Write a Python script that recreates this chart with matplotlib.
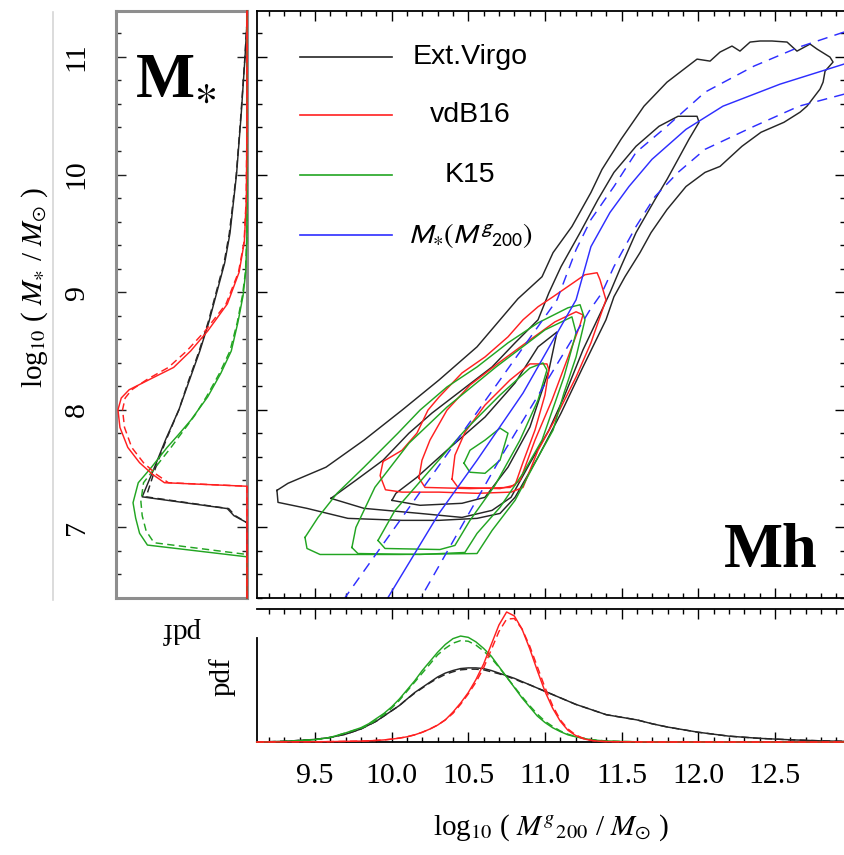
import numpy as np
import matplotlib
matplotlib.use("Agg")
from matplotlib import pyplot as plt
from matplotlib.ticker import MultipleLocator, FormatStrFormatter
from matplotlib.lines import Line2D

plt.rcParams['font.family'] = ['Liberation Serif', 'DejaVu Serif']
plt.rcParams['mathtext.fontset'] = 'stix'

BLACK = '#262626'
RED = '#ff2020'
GREEN = '#22a522'
BLUE = '#2e2eff'

# ---------------- main panel: contours in (log Mh, log M*) ----------------
# Ext.Virgo
vir1_x = [9.252, 9.259, 9.448, 9.715, 10.068, 10.309, 10.557, 10.707, 10.805, 10.955, 11.105, 11.248,
          11.398, 11.45, 11.522, 11.62, 11.692, 11.796, 11.92, 12.044, 12.142, 12.285, 12.409, 12.559,
          12.664, 12.709, 12.794, 12.814, 12.827, 12.879, 12.859, 12.775, 12.729, 12.644, 12.579, 12.481,
          12.403, 12.338, 12.272, 12.22, 12.142, 12.077, 11.992, 11.796, 11.646, 11.496, 11.372, 11.3,
          11.176, 11.053, 10.981, 10.824, 10.557, 10.309, 10.068, 9.82, 9.572, 9.324]
vir1_y = [7.315, 7.213, 7.162, 7.077, 7.06, 7.06, 7.077, 7.119, 7.256, 7.597, 7.972, 8.364,
          8.765, 8.961, 9.131, 9.336, 9.506, 9.702, 9.898, 10.018, 10.069, 10.24, 10.359, 10.444,
          10.53, 10.581, 10.726, 10.785, 10.879, 10.956, 10.998, 11.066, 11.109, 11.049, 11.126, 11.135,
          11.135, 11.126, 11.049, 11.092, 11.041, 10.964, 10.981, 10.785, 10.581, 10.299, 10.043, 9.847,
          9.558, 9.336, 9.131, 8.944, 8.535, 8.253, 7.997, 7.742, 7.512, 7.375]
vir2_x = [9.604, 9.82, 10.185, 10.459, 10.655, 10.779, 10.902, 11.026, 11.124, 11.248, 11.372, 11.424,
          11.496, 11.594, 11.718, 11.796, 11.868, 11.939, 12.005, 11.992, 11.868, 11.744, 11.594, 11.45,
          11.346, 11.229, 11.105, 11.026, 10.955, 10.805, 10.655, 10.459, 10.263, 10.113, 9.944, 9.767]
vir2_y = [7.247, 7.162, 7.119, 7.085, 7.145, 7.256, 7.546, 7.827, 8.108, 8.509, 8.85, 8.995,
          9.217, 9.506, 9.788, 9.958, 10.129, 10.299, 10.444, 10.495, 10.495, 10.41, 10.24, 10.018,
          9.788, 9.506, 9.217, 8.995, 8.765, 8.569, 8.364, 8.168, 7.972, 7.801, 7.571, 7.401]
vir3_x = [10.002, 10.185, 10.459, 10.609, 10.759, 10.902, 11.026, 11.079, 10.955, 10.805, 10.609,
          10.361, 10.165, 10.028]
vir3_y = [7.23, 7.188, 7.205, 7.256, 7.512, 7.853, 8.338, 8.662, 8.535, 8.228, 7.938,
          7.656, 7.426, 7.29]

# vdB16
vdb1_x = [9.944, 9.925, 9.96, 10.068, 10.309, 10.557, 10.779, 10.857, 10.955, 11.053, 11.203, 11.3,
          11.398, 11.359, 11.34, 11.261, 11.053, 10.955, 10.857, 10.759, 10.609, 10.459, 10.309,
          10.237, 10.165, 10.068]
vdb1_y = [7.56, 7.44, 7.32, 7.30, 7.30, 7.29, 7.30, 7.34, 7.656, 7.887, 8.279, 8.569,
          8.935, 9.106, 9.165, 9.148, 8.961, 8.876, 8.765, 8.62, 8.449, 8.313, 8.108,
          7.997, 7.801, 7.656]
vdb2_x = [10.178, 10.218, 10.512, 10.773, 10.838, 10.935, 11.046, 11.144, 11.229, 11.248, 11.203,
          11.066, 10.902, 10.707, 10.512, 10.361, 10.25, 10.198]
vdb2_y = [7.42, 7.34, 7.33, 7.34, 7.40, 7.742, 8.083, 8.424, 8.722, 8.807, 8.833,
          8.748, 8.594, 8.407, 8.211, 7.997, 7.742, 7.571]
vdb3_x = [10.394, 10.433, 10.707, 10.805, 10.857, 10.935, 11.0, 11.026, 11.013, 10.902, 10.772,
          10.609, 10.479, 10.413]
vdb3_y = [7.41, 7.34, 7.33, 7.36, 7.554, 7.827, 8.125, 8.338, 8.39, 8.39, 8.253,
          8.04, 7.81, 7.614]

# K15
k15a_x = [9.435, 9.448, 9.533, 10.054, 10.557, 10.655, 10.805, 10.955, 11.053, 11.124, 11.203, 11.261,
          11.229, 11.15, 10.955, 10.759, 10.557, 10.361, 10.185, 10.041, 9.82, 9.644, 9.52]
k15a_y = [6.915, 6.821, 6.77, 6.77, 6.778, 6.974, 7.23, 7.597, 7.827, 8.142, 8.449, 8.765,
          8.893, 8.867, 8.739, 8.569, 8.364, 8.194, 7.997, 7.801, 7.512, 7.29, 7.085]
k15b_x = [9.741, 9.78, 10.185, 10.478, 10.557, 10.707, 10.857, 10.981, 11.124, 11.203, 11.176,
          11.0, 10.681, 10.361, 10.113, 9.891, 9.767]
k15b_y = [6.829, 6.778, 6.77, 6.787, 6.949, 7.171, 7.46, 7.742, 8.279, 8.654, 8.79,
          8.679, 8.364, 8.023, 7.716, 7.341, 7.0]
k15c_x = [9.911, 9.957, 10.315, 10.413, 10.511, 10.674, 10.837, 10.955, 11.013, 10.987, 10.902,
          10.707, 10.479, 10.25, 10.022]
k15c_y = [6.889, 6.821, 6.812, 6.847, 7.06, 7.358, 7.742, 8.083, 8.338, 8.398, 8.355,
          8.125, 7.827, 7.486, 7.145]
k15d_x = [10.472, 10.511, 10.609, 10.707, 10.759, 10.707, 10.609, 10.511]
k15d_y = [7.546, 7.469, 7.46, 7.571, 7.801, 7.844, 7.742, 7.656]

# M*(M^g_200) relation and its scatter
rel_x = [12.951, 12.533, 12.161, 11.92, 11.698, 11.548, 11.424, 11.3, 11.203, 10.857, 10.557, 10.309, 9.976]
rel_y = [10.939, 10.768, 10.581, 10.384, 10.129, 9.898, 9.677, 9.387, 8.935, 8.142, 7.571, 7.119, 6.403]
rel_hi_x = [12.951, 12.657, 12.364, 12.044, 11.796, 11.594, 11.45, 11.3, 11.203, 11.079, 10.413, 9.696]
rel_hi_y = [11.211, 11.083, 10.922, 10.7, 10.41, 10.188, 9.898, 9.617, 9.361, 8.935, 7.716, 6.403]
rel_lo_x = [12.951, 12.657, 12.364, 12.044, 11.868, 11.718, 11.594, 11.45, 11.372, 11.294, 10.739, 10.191]
rel_lo_y = [10.683, 10.581, 10.41, 10.214, 10.018, 9.813, 9.558, 9.217, 8.995, 8.85, 7.656, 6.403]

# ---------------- bottom panel: pdf of log M^g_200 ----------------
mh = [9.12, 9.3, 9.5, 9.6, 9.7,
      9.8, 9.85, 9.9, 9.95, 10.0, 10.05, 10.1, 10.15, 10.2, 10.25, 10.3, 10.35, 10.4, 10.45, 10.5, 10.55,
      10.6, 10.65, 10.7, 10.75, 10.8, 10.85, 10.9, 10.95, 11.0, 11.05, 11.1, 11.15, 11.2, 11.25, 11.3,
      11.35, 11.4,
      11.5, 11.6, 11.7, 11.8, 11.9, 12.0, 12.2, 12.4, 12.6, 12.8, 12.96]
pdf_mh_vir = [0, .005, .02, .035, .06,
              .1, .13, .16, .2, .24, .28, .33, .38, .42, .46, .5, .53, .55, .565, .57, .57, .565, .55, .53,
              .51, .49, .465, .44, .415, .39, .365, .34, .315, .29, .27, .25, .23, .21,
              .19, .17, .14, .115, .095, .075, .045, .028, .017, .009, .005]
pdf_mh_vir_d = [0, .005, .02, .035, .06,
                .1, .13, .16, .2, .24, .28, .33, .375, .415, .455, .49, .52, .54, .555, .56, .56, .555, .54,
                .525, .505, .485, .46, .44, .415, .39, .365, .34, .315, .29, .27, .25, .23, .21,
                .19, .17, .14, .115, .095, .075, .045, .028, .017, .009, .005]
pdf_mh_vdb = [0, .001, .002, .003, .005,
              .007, .009, .012, .016, .022, .03, .04, .055, .075, .1, .13, .17, .23, .3, .38, .48, .6,
              .75, .9, 1.0, .97, .87, .72, .55, .39, .26, .16, .09, .05, .025, .012, .006, .003,
              .002, .001, 0, 0, 0, 0, 0, 0, 0, 0, 0]
pdf_mh_vdb_d = [0, .001, .002, .003, .005,
                .007, .009, .012, .016, .022, .03, .04, .055, .075, .1, .13, .17, .22, .29, .37, .46, .57,
                .71, .85, .945, .95, .87, .74, .58, .42, .28, .17, .1, .055, .028, .013, .006, .003,
                .002, .001, 0, 0, 0, 0, 0, 0, 0, 0, 0]
pdf_mh_k15 = [0, .004, .018, .035, .07,
              .11, .14, .18, .22, .27, .33, .4, .47, .55, .62, .69, .75, .795, .815, .805, .77, .72,
              .66, .58, .5, .42, .34, .27, .2, .15, .11, .08, .055, .04, .028, .018, .012, .008,
              .004, .002, .001, 0, 0, 0, 0, 0, 0, 0, 0]
pdf_mh_k15_d = [0, .004, .018, .035, .07,
                .105, .13, .17, .21, .26, .32, .39, .46, .53, .6, .67, .72, .76, .78, .775, .745, .7,
                .645, .575, .5, .425, .35, .28, .215, .16, .12, .085, .06, .042, .03, .019, .013, .008,
                .004, .002, .001, 0, 0, 0, 0, 0, 0, 0, 0]

# ---------------- left panel: pdf of log M* ----------------
ms_vir = [6.40, 7.04, 7.10, 7.16, 7.26, 7.50, 7.75, 8.00, 8.25, 8.50, 8.75, 9.00, 9.25, 9.50,
          10.00, 10.50, 11.00, 11.30, 11.39]
pdf_ms_vir = [0.0, 0.0, 0.10, 0.15, 0.80, 0.71, 0.62, 0.52, 0.44, 0.36, 0.29, 0.23, 0.17, 0.13,
              0.08, 0.045, 0.015, 0.0, 0.0]
pdf_ms_vir_d = [0.0, 0.0, 0.09, 0.14, 0.77, 0.70, 0.615, 0.52, 0.445, 0.365, 0.295, 0.235, 0.175, 0.135,
                0.082, 0.047, 0.016, 0.0, 0.0]
ms_vdb = [6.40, 7.35, 7.38, 7.45, 7.55, 7.68, 7.85, 8.00, 8.10, 8.17, 8.26, 8.36, 8.50, 8.67, 8.90,
          9.17, 9.43, 9.80, 10.50, 11.39]
pdf_ms_vdb = [0.0, 0.0, 0.63, 0.72, 0.82, 0.91, 0.97, 0.985, 0.96, 0.90, 0.74, 0.56, 0.43, 0.30, 0.15,
              0.06, 0.02, 0.005, 0.0, 0.0]
pdf_ms_vdb_d = [0.0, 0.0, 0.60, 0.69, 0.79, 0.88, 0.935, 0.95, 0.93, 0.88, 0.76, 0.60, 0.46, 0.32, 0.16,
                0.065, 0.022, 0.006, 0.0, 0.0]
ms_k15 = [6.40, 6.75, 6.85, 6.95, 7.08, 7.21, 7.38, 7.51, 7.68, 7.78, 7.91, 8.11, 8.31, 8.50, 8.74,
          8.97, 9.17, 9.50, 11.39]
pdf_ms_k15 = [0.0, 0.0, 0.76, 0.82, 0.85, 0.87, 0.83, 0.73, 0.61, 0.53, 0.43, 0.30, 0.20, 0.12, 0.07,
              0.03, 0.01, 0.0, 0.0]
ms_k15_d = [6.40, 6.77, 6.87, 6.97, 7.10, 7.22, 7.38, 7.51, 7.68, 7.80, 7.95, 8.11, 8.31, 8.50, 8.74,
            8.97, 9.17, 9.50, 11.39]
pdf_ms_k15_d = [0.0, 0.0, 0.71, 0.77, 0.80, 0.81, 0.79, 0.70, 0.58, 0.50, 0.40, 0.31, 0.21, 0.13, 0.075,
                0.035, 0.012, 0.0, 0.0]

legend_labels = ['Ext.Virgo', 'vdB16', 'K15', r'$M_{\ast}(M^{g}{}_{200})$']
legend_colors = [BLACK, RED, GREEN, BLUE]

XLIM = (9.122, 12.957)
YLIM = (6.40, 11.39)
W, H = 844.0, 855.0

fig = plt.figure(figsize=(W / 100, H / 100), dpi=100)
ax = fig.add_axes([257 / W, 1 - 598 / H, 588 / W, 587 / H])
axl = fig.add_axes([116 / W, 1 - 598 / H, 131 / W, 587 / H])
axb = fig.add_axes([257 / W, 1 - 742 / H, 588 / W, 133 / H])

lw = 1.05
# main panel
for xs, ys, col in [(vir1_x, vir1_y, BLACK), (vir2_x, vir2_y, BLACK), (vir3_x, vir3_y, BLACK),
                    (vdb1_x, vdb1_y, RED), (vdb2_x, vdb2_y, RED), (vdb3_x, vdb3_y, RED),
                    (k15a_x, k15a_y, GREEN), (k15b_x, k15b_y, GREEN), (k15c_x, k15c_y, GREEN),
                    (k15d_x, k15d_y, GREEN)]:
    ax.plot(np.append(xs, xs[0]), np.append(ys, ys[0]), color=col, lw=lw)
ax.plot(rel_x, rel_y, color=BLUE, lw=lw)
ax.plot(rel_hi_x, rel_hi_y, color=BLUE, lw=lw, dashes=(7, 5))
ax.plot(rel_lo_x, rel_lo_y, color=BLUE, lw=lw, dashes=(7, 5))

ax.set_xlim(*XLIM)
ax.set_ylim(*YLIM)
ax.xaxis.set_major_locator(MultipleLocator(0.5))
ax.xaxis.set_minor_locator(MultipleLocator(0.1))
ax.yaxis.set_major_locator(MultipleLocator(1))
ax.yaxis.set_minor_locator(MultipleLocator(0.2))
ax.tick_params(which='both', direction='in', top=True, right=True, bottom=True, left=True,
               labelbottom=False, labelleft=False, width=1.0, color='black')
ax.tick_params(which='major', length=7)
ax.tick_params(which='minor', length=3.5)
for s in ax.spines.values():
    s.set_linewidth(1.3)

# legend drawn by hand, text centred like the original
leg_y = [0.922, 0.823, 0.721, 0.618]
for lab, col, yy in zip(legend_labels, legend_colors, leg_y):
    ax.plot([0.073, 0.23], [yy, yy], color=col, lw=1.2, transform=ax.transAxes)
    ax.text(0.362, yy, lab, transform=ax.transAxes, ha='center', va='center',
            fontsize=20.5, family='Liberation Sans', math_fontfamily='stixsans')

ax.text((818 - 257) / 588, (598 - 567) / 587, 'Mh', transform=ax.transAxes, ha='right',
        va='baseline', fontsize=45, fontweight='bold')

# left panel
axl.plot(pdf_ms_vir, ms_vir, color=BLACK, lw=lw, zorder=3, clip_on=False)
axl.plot(pdf_ms_vir_d, ms_vir, color=BLACK, lw=lw, dashes=(5, 3), zorder=3, clip_on=False)
axl.plot(pdf_ms_k15, ms_k15, color=GREEN, lw=lw, zorder=3, clip_on=False)
axl.plot(pdf_ms_k15_d, ms_k15_d, color=GREEN, lw=lw, dashes=(5, 3), zorder=3, clip_on=False)
axl.plot(pdf_ms_vdb, ms_vdb, color=RED, lw=lw, zorder=4, clip_on=False)
axl.plot(pdf_ms_vdb_d, ms_vdb, color=RED, lw=lw, dashes=(5, 3), zorder=4, clip_on=False)
axl.set_xlim(1.0, 0.0)
axl.set_ylim(*YLIM)
axl.yaxis.set_major_locator(MultipleLocator(1))
axl.yaxis.set_minor_locator(MultipleLocator(0.2))
axl.set_xticks([])
axl.tick_params(axis='y', which='both', direction='in', left=True, right=True, labelleft=True,
                labelsize=21.5, pad=19, color='#222222', width=1.0, labelrotation=90)
axl.tick_params(axis='y', which='major', length=7)
axl.tick_params(axis='y', which='minor', length=3.5)
for t in axl.get_yticklabels():
    t.set_va('center')
for s in axl.spines.values():
    s.set_color('#8e8e8e')
    s.set_linewidth(2.2)
axl.set_ylabel(r'log$_{10}$ ( $M_{\ast}$ / $M_{\odot}$ )', fontsize=21)
axl.yaxis.set_label_coords(-0.50, 0.53)
axl.text(0.5, -0.0545, 'pdf', transform=axl.transAxes, rotation=180, ha='center', va='center',
         fontsize=21)
axl.text((135 - 116) / 131, (598 - 95) / 587, r'M$_{\ast}$', transform=axl.transAxes, ha='left',
         va='baseline', fontsize=45, fontweight='bold')

# bottom panel
axb.plot(mh, pdf_mh_vir, color=BLACK, lw=lw, zorder=3, clip_on=False)
axb.plot(mh, pdf_mh_vir_d, color=BLACK, lw=lw, dashes=(5, 3), zorder=3, clip_on=False)
axb.plot(mh, pdf_mh_k15, color=GREEN, lw=lw, zorder=3, clip_on=False)
axb.plot(mh, pdf_mh_k15_d, color=GREEN, lw=lw, dashes=(5, 3), zorder=3, clip_on=False)
axb.plot(mh, pdf_mh_vdb, color=RED, lw=lw, zorder=4, clip_on=False)
axb.plot(mh, pdf_mh_vdb_d, color=RED, lw=lw, dashes=(5, 3), zorder=4, clip_on=False)
axb.set_xlim(*XLIM)
axb.set_ylim(0, 1.023)
axb.spines['right'].set_visible(False)
axb.spines['left'].set_bounds(0, 0.8)
for s in axb.spines.values():
    s.set_linewidth(1.3)
axb.set_yticks([])
axb.xaxis.set_major_locator(MultipleLocator(0.5))
axb.xaxis.set_minor_locator(MultipleLocator(0.1))
axb.xaxis.set_major_formatter(FormatStrFormatter('%.1f'))
axb.tick_params(axis='x', which='both', direction='in', top=True, bottom=True, width=1.0,
                labelsize=21.5, pad=15)
axb.tick_params(axis='x', which='major', length=7)
axb.tick_params(axis='x', which='minor', length=3.5)
axb.set_xlabel(r'log$_{10}$ ( $M^{g}{}_{200}$ / $M_{\odot}$ )', fontsize=21)
axb.xaxis.set_label_coords(0.5, -0.53)
axb.set_ylabel('pdf', fontsize=21)
axb.yaxis.set_label_coords(-0.036, 0.49)

# thin grey rule at the far left of the original slide
fig.add_artist(Line2D([53 / W, 53 / W], [1 - 12 / H, 1 - 600 / H], color='#d6d6d6', lw=1.2))

fig.savefig('out.png', dpi=100)
